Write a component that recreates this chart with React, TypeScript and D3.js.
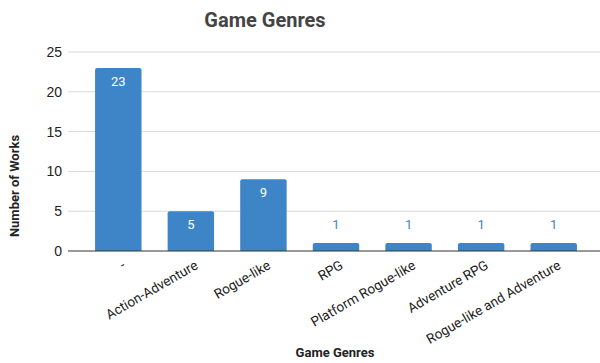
import React from "react";
import * as d3 from "d3";

const categories = [
  "-",
  "Action-Adventure",
  "Rogue-like",
  "RPG",
  "Platform Rogue-like",
  "Adventure RPG",
  "Rogue-like and Adventure",
];
const counts = [23, 5, 9, 1, 1, 1, 1];
const yTicks = [0, 5, 10, 15, 20, 25];

const W = 600;
const H = 363;
const BAR = "#3d85c6";
const FONT = "Roboto, Arial, sans-serif";

export default function App() {
  const x = d3
    .scaleBand<string>()
    .domain(categories)
    .range([82, 590])
    .paddingInner(0.36)
    .paddingOuter(0.18);
  const y = d3.scaleLinear().domain([0, 25]).range([251, 52]);

  return (
    <svg
      width={W}
      height={H}
      style={{ position: "absolute", left: 0, top: 0, background: "#fff" }}
      fontFamily={FONT}
    >
      <text
        x={265}
        y={27}
        textAnchor="middle"
        fontSize={20}
        fontWeight="bold"
        fill="#444"
      >
        Game Genres
      </text>

      {yTicks.map((t) => (
        <g key={t}>
          {t !== 0 && (
            <line x1={68} x2={600} y1={y(t)} y2={y(t)} stroke="#d9d9d9" strokeWidth={1} />
          )}
          <text
            x={62}
            y={y(t)}
            dy="0.36em"
            textAnchor="end"
            fontSize={14}
            fill="#222"
            fontFamily="Arial, 'Liberation Sans', sans-serif"
          >
            {t}
          </text>
        </g>
      ))}

      {categories.map((c, i) => {
        const v = counts[i];
        const bx = x(c)!;
        const bw = x.bandwidth();
        const top = y(v);
        const h = y(0) - top;
        const inside = h > 20;
        return (
          <g key={c}>
            <path
              d={`M${bx},${y(0)} V${top + 2} Q${bx},${top} ${bx + 2},${top} H${bx + bw - 2} Q${bx + bw},${top} ${bx + bw},${top + 2} V${y(0)} Z`}
              fill={BAR}
            />
            <text
              x={bx + bw / 2}
              y={inside ? top + 18 : top - 14}
              textAnchor="middle"
              fontSize={13}
              fill={inside ? "#ffffff" : BAR}
            >
              {v}
            </text>
            <text
              transform={`translate(${bx + bw / 2 + 8},${268}) rotate(-30)`}
              textAnchor="end"
              fontSize={13.5}
              fill="#222"
            >
              {c}
            </text>
          </g>
        );
      })}

      <line x1={68} x2={600} y1={y(0)} y2={y(0)} stroke="#333" strokeWidth={1} />

      <text
        transform={`translate(19,186) rotate(-90)`}
        textAnchor="middle"
        fontSize={13}
        fontWeight="bold"
        fill="#222"
      >
        Number of Works
      </text>
      <text
        x={335}
        y={357}
        textAnchor="middle"
        fontSize={13}
        fontWeight="bold"
        fill="#222"
      >
        Game Genres
      </text>
    </svg>
  );
}
